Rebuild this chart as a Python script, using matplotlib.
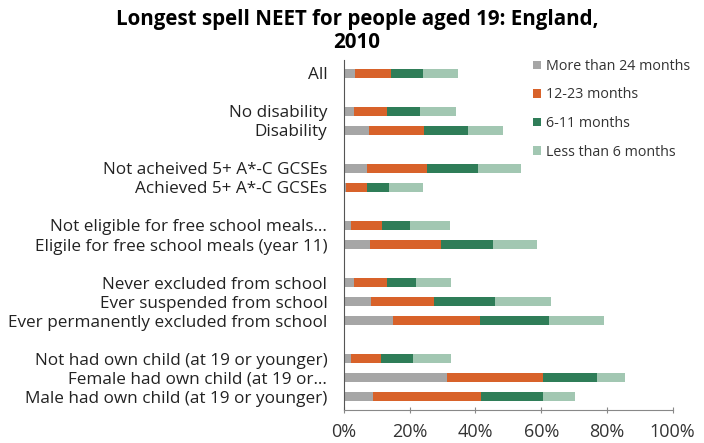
import matplotlib.pyplot as plt
import numpy as np

plt.rcParams['font.family'] = ['Open Sans', 'DejaVu Sans']

labels = [
    "All",
    "No disability",
    "Disability",
    "Not acheived 5+ A*-C GCSEs",
    "Achieved 5+ A*-C GCSEs",
    "Not eligible for free school meals\u2026",
    "Eligile for free school meals (year 11)",
    "Never excluded from school",
    "Ever suspended from school",
    "Ever permanently excluded from school",
    "Not had own child (at 19 or younger)",
    "Female had own child (at 19 or\u2026",
    "Male had own child (at 19 or younger)",
]
# slot of each row counted from the top (blank slot between groups)
slots = [0, 2, 3, 5, 6, 8, 9, 11, 12, 13, 15, 16, 17]

series_names = ["More than 24 months", "12-23 months", "6-11 months", "Less than 6 months"]
over_24 = [3.3, 3.1, 7.7, 7.1, 0.5, 2.0, 7.9, 3.1, 8.1, 14.8, 2.0, 31.4, 8.9]
m12_23 = [11.0, 10.1, 16.7, 18.1, 6.4, 9.7, 21.5, 10.1, 19.3, 26.6, 9.3, 29.2, 32.8]
m6_11 = [9.8, 9.8, 13.2, 15.7, 6.9, 8.4, 16.0, 8.7, 18.5, 20.9, 9.6, 16.3, 18.7]
under_6 = [10.7, 11.0, 10.7, 12.9, 10.3, 12.2, 13.2, 10.6, 17.0, 16.8, 11.7, 8.7, 9.9]

colors = ["#a6a6a6", "#d8622a", "#2f7d58", "#a2c7b2"]

fig = plt.figure(figsize=(7.04, 4.43), dpi=100)
ax = fig.add_axes([344 / 704, 1 - 410 / 443, (672.7 - 344) / 704, (410 - 60) / 443])

y = np.array(slots)
left = np.zeros(len(labels))
for name, vals, c in zip(series_names, [over_24, m12_23, m6_11, under_6], colors):
    ax.barh(y, vals, left=left, height=0.48, color=c, label=name)
    left += np.array(vals)

ax.set_ylim(17.7, -0.7)
ax.set_xlim(0, 100)
ax.set_yticks(y)
ax.set_yticklabels(labels, fontsize=12.3, color="#222222")
ax.tick_params(axis="y", length=0, pad=12)
ax.set_xticks(range(0, 101, 20))
ax.set_xticklabels([f"{v}%" for v in range(0, 101, 20)], fontsize=13, color="#333333")
ax.tick_params(axis="x", length=5, direction="inout", color="#888888", pad=7)

for s in ["top", "right"]:
    ax.spines[s].set_visible(False)
ax.spines["left"].set_color("#555555")
ax.spines["bottom"].set_color("#888888")

fig.legend(loc="upper left", bbox_to_anchor=(520 / 704, 1 - 46 / 443), frameon=False,
           fontsize=10.3, handlelength=0.55, handleheight=0.55, handletextpad=0.35,
           labelspacing=0.95, labelcolor="#333333")

fig.text(357 / 704, 1 - 9 / 443, "Longest spell NEET for people aged 19: England,\n2010",
         ha="center", va="top", fontsize=14.8, fontweight="bold", linespacing=1.12)

fig.savefig("out.png", dpi=100)
